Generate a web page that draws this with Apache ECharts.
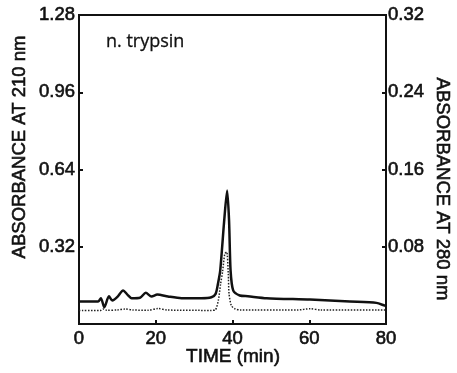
<!DOCTYPE html>
<html>
<head>
<meta charset="utf-8">
<script src="https://cdn.jsdelivr.net/npm/echarts@6/dist/echarts.min.js"></script>
<style>
html,body{margin:0;padding:0;background:#fff;}
#chart{width:457px;height:373px;}
</style>
</head>
<body>
<div id="chart"></div>
<script>
// Time (min) for the 210 nm trace (solid)
var time210 = [0, 5.0, 5.7, 6.6, 7.8, 8.7, 10.0, 11.5, 12.6, 13.7, 15.9, 17.4, 18.9, 20.4, 23.2, 26.7, 31.9, 34.5, 35.6, 36.2, 36.8, 37.8, 38.6, 39.1, 39.5, 40.2, 41.9, 44.0, 48.9, 60.2, 70.6, 77.5, 79.7, 80];
// Absorbance at 210 nm (left axis)
var abs210 = [0.093, 0.093, 0.107, 0.069, 0.115, 0.097, 0.112, 0.139, 0.122, 0.107, 0.109, 0.129, 0.114, 0.122, 0.114, 0.107, 0.107, 0.111, 0.125, 0.166, 0.221, 0.421, 0.553, 0.43, 0.221, 0.138, 0.118, 0.115, 0.107, 0.101, 0.093, 0.0875, 0.076, 0.075];
// Time (min) for the 280 nm trace (dotted)
var time280 = [0, 5.5, 6.3, 7.2, 10.0, 12.0, 14.0, 18.0, 20.6, 23.0, 34.4, 35.5, 36.3, 36.9, 37.4, 38.0, 38.5, 38.9, 39.1, 39.7, 40.6, 42.0, 57.0, 60.2, 63.0, 80];
// Absorbance at 280 nm (right axis)
var abs280 = [0.0139, 0.0139, 0.0155, 0.0143, 0.0145, 0.0155, 0.0145, 0.0143, 0.016, 0.0145, 0.0141, 0.0145, 0.0243, 0.0415, 0.0538, 0.0728, 0.0745, 0.052, 0.0313, 0.019, 0.0158, 0.0145, 0.0145, 0.0158, 0.0145, 0.0145];
// Tick labels
var xTicks = [0, 20, 40, 60, 80];
var leftTicks = [0.32, 0.64, 0.96, 1.28];
var rightTicks = [0.08, 0.16, 0.24, 0.32];

function pairs(xs, ys){ return xs.map(function(x,i){ return [x, ys[i]]; }); }
function fmt(list){ return function(v){
  for (var i=0;i<list.length;i++){ if (Math.abs(list[i]-v) < 1e-9) return list[i].toFixed(2); }
  return '';
};}

var font = 'Liberation Sans, Arial, sans-serif';
var ink = '#111';
var bw = 0.6;
var labelStyle = {color: ink, fontFamily: font, fontSize: 18.5, textBorderColor: ink, textBorderWidth: bw};
var chart = echarts.init(document.getElementById('chart'), null, {renderer:'canvas'});
chart.setOption({
  animation: false,
  backgroundColor: '#fff',
  grid: {left: 79, right: 71, top: 15, bottom: 49, show: true, borderColor: ink, borderWidth: 2, backgroundColor: 'transparent'},
  xAxis: {
    type: 'value', min: 0, max: 80, interval: 20,
    axisLine: {show: true, lineStyle: {color: ink, width: 2}},
    axisTick: {show: true, inside: true, length: 4, lineStyle: {color: ink, width: 2}},
    axisLabel: Object.assign({margin: 5,
      formatter: function(v){ return xTicks.indexOf(v) >= 0 ? String(v) : ''; }}, labelStyle),
    splitLine: {show: false}
  },
  yAxis: [{
    type: 'value', min: 0, max: 1.28, interval: 0.32, position: 'left',
    axisLine: {show: true, lineStyle: {color: ink, width: 2}},
    axisTick: {show: true, inside: true, length: 4, lineStyle: {color: ink, width: 2}},
    axisLabel: Object.assign({margin: 4, formatter: fmt(leftTicks)}, labelStyle),
    splitLine: {show: false}
  }, {
    type: 'value', min: 0, max: 0.32, interval: 0.08, position: 'right',
    axisLine: {show: true, lineStyle: {color: ink, width: 2}},
    axisTick: {show: true, inside: true, length: 4, lineStyle: {color: ink, width: 2}},
    axisLabel: Object.assign({margin: 2, formatter: fmt(rightTicks)}, labelStyle),
    splitLine: {show: false}
  }],
  graphic: [
    {type: 'text', x: 20, y: 147, rotation: Math.PI/2,
      style: {text: 'ABSORBANCE AT 210 nm', fill: ink, stroke: ink, lineWidth: bw, font: '18.5px ' + font, textAlign: 'center', textVerticalAlign: 'middle'}},
    {type: 'text', x: 442, y: 189, rotation: -Math.PI/2,
      style: {text: 'ABSORBANCE AT 280 nm', fill: ink, stroke: ink, lineWidth: bw, font: '18.5px ' + font, textAlign: 'center', textVerticalAlign: 'middle'}},
    {type: 'text', x: 233, y: 357,
      style: {text: 'TIME (min)', fill: ink, stroke: ink, lineWidth: bw, font: '19px ' + font, textAlign: 'center', textVerticalAlign: 'middle'}},
    {type: 'text', x: 106, y: 42,
      style: {text: 'n. trypsin', fill: ink, stroke: ink, lineWidth: 0.3, font: '18px Open Sans, sans-serif', textAlign: 'left', textVerticalAlign: 'middle'}}
  ],
  series: [{
    type: 'line', yAxisIndex: 0, data: pairs(time210, abs210), showSymbol: false, symbol: 'none',
    smooth: 0.25,
    lineStyle: {color: ink, width: 2.5}
  }, {
    type: 'line', yAxisIndex: 1, data: pairs(time280, abs280), showSymbol: false, symbol: 'none',
    smooth: 0.25,
    lineStyle: {color: '#222', width: 1.5, type: [1.5, 1.5]}
  }]
});
</script>
</body>
</html>
